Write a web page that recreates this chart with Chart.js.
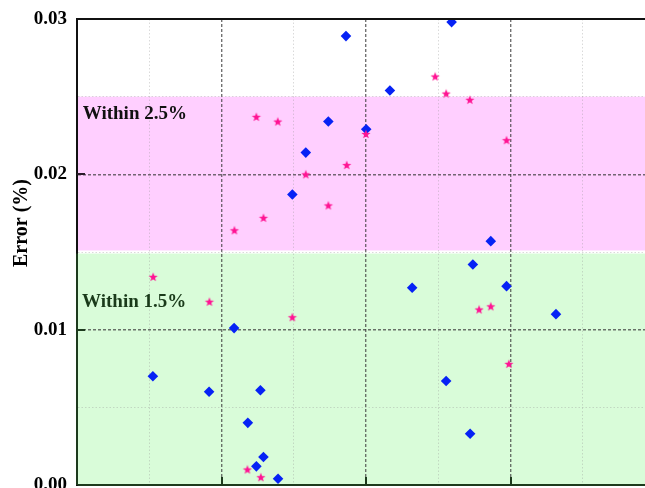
<!DOCTYPE html>
<html>
<head>
<meta charset="utf-8">
<script src="https://cdn.jsdelivr.net/npm/chart.js@4.4.0/dist/chart.umd.min.js"></script>
<style>
  html, body { margin: 0; padding: 0; background: #ffffff; }
  #wrap { width: 645px; height: 488px; position: relative; }
</style>
</head>
<body>
<div id="wrap"><canvas id="c" width="645" height="488"></canvas></div>
<script>
// ---- data ----
const blueX = [1.861, 2.592, 2.165, 1.739, 2.001, 1.583, 1.490, 2.863, 2.739, 2.319, 2.972,
               3.314, 1.087, 0.525, 0.914, 1.269, 2.554, 1.182, 1.290, 1.241, 1.391, 2.720];
const blueY = [0.0289, 0.0298, 0.0254, 0.0234, 0.0229, 0.0214, 0.0187, 0.0157, 0.0142, 0.0127, 0.0128,
               0.0110, 0.0101, 0.0070, 0.0060, 0.0061, 0.0067, 0.0040, 0.0018, 0.0012, 0.0004, 0.0033];

const pinkX = [2.478, 2.554, 2.718, 2.972, 1.241, 1.389, 1.999, 1.866, 1.583, 1.739,
               1.290, 1.089, 0.527, 0.916, 1.490, 2.782, 2.863, 2.988, 1.179, 1.272];
const pinkY = [0.0263, 0.0252, 0.0248, 0.0222, 0.0237, 0.0234, 0.0226, 0.0206, 0.0200, 0.0180,
               0.0172, 0.0164, 0.0134, 0.0118, 0.0108, 0.0113, 0.0115, 0.0078, 0.0010, 0.0005];

// axis ticks
const yTickValues = [0, 0.005, 0.01, 0.015, 0.02, 0.025, 0.03];
const yTickLabels = ['0.00', '', '0.01', '', '0.02', '', '0.03'];
const yMajor = [0.01, 0.02];
const xTickValues = [0.5, 1, 1.5, 2, 2.5, 3, 3.5];
const xMajor = [1, 2, 3];
const xRange = [0, 3.93];
const yRange = [0, 0.03];

// tolerance bands and their captions
const bandUpper = [0.0151, 0.025];
const bandLower = [0, 0.0149];
const bandCaptions = ['Within 2.5%', 'Within 1.5%'];
const captionPos = [[0.04, 0.02356], [0.035, 0.01147]];
const yTitle = 'Error (%)';

// ---- styling ----
const SERIF = '"Liberation Serif", "Times New Roman", Times, serif';
Chart.defaults.font.family = SERIF;

const isMajor = (v, list) => list.some(m => Math.abs(m - v) < 1e-9);

function makeStar(color, outer, inner) {
  const s = Math.ceil(outer * 2 + 2);
  const c = document.createElement('canvas');
  c.width = s; c.height = s;
  const g = c.getContext('2d');
  g.translate(s / 2, s / 2 + 0.4);
  g.beginPath();
  for (let i = 0; i < 10; i++) {
    const r = i % 2 ? inner : outer;
    const a = -Math.PI / 2 + i * Math.PI / 5;
    g.lineTo(r * Math.cos(a), r * Math.sin(a));
  }
  g.closePath();
  g.fillStyle = color;
  g.fill();
  return c;
}
const starImg = makeStar('#ff1493', 4.8, 2.0);

// bands, frame, inward ticks, captions and axis title
const decor = {
  id: 'decor',
  beforeDraw(chart) {
    const { ctx, chartArea: a, scales: { x, y } } = chart;
    ctx.save();
    ctx.fillStyle = '#ffcfff';
    const pu = y.getPixelForValue(bandUpper[1]), pl = y.getPixelForValue(bandUpper[0]);
    ctx.fillRect(a.left, pu, a.right - a.left, pl - pu);
    ctx.fillStyle = '#d9fcd9';
    const gu = y.getPixelForValue(bandLower[1]), gl = y.getPixelForValue(bandLower[0]);
    ctx.fillRect(a.left, gu, a.right - a.left, gl - gu);
    ctx.restore();
  },
  afterDraw(chart) {
    const { ctx, chartArea: a, scales: { x, y } } = chart;
    ctx.save();
    // top frame line
    ctx.strokeStyle = '#111';
    ctx.lineWidth = 2;
    ctx.beginPath();
    ctx.moveTo(a.left - 1, a.top);
    ctx.lineTo(a.right, a.top);
    ctx.stroke();
    // dark green left edge across the lower band
    ctx.strokeStyle = '#1d3b1d';
    ctx.beginPath();
    ctx.moveTo(a.left, y.getPixelForValue(bandLower[1]));
    ctx.lineTo(a.left, a.bottom);
    ctx.stroke();
    // inward major ticks
    xMajor.forEach(v => {
      const px = Math.round(x.getPixelForValue(v));
      ctx.beginPath();
      ctx.moveTo(px, a.bottom);
      ctx.lineTo(px, a.bottom - 8);
      ctx.stroke();
    });
    yMajor.forEach(v => {
      const py = Math.round(y.getPixelForValue(v));
      ctx.strokeStyle = v < bandLower[1] ? '#1d3b1d' : '#2a1a2a';
      ctx.beginPath();
      ctx.moveTo(a.left, py);
      ctx.lineTo(a.left + 8, py);
      ctx.stroke();
    });
    // band captions
    ctx.font = 'bold 19px ' + SERIF;
    ctx.textAlign = 'left';
    ctx.textBaseline = 'alphabetic';
    ctx.fillStyle = '#111';
    ctx.fillText(bandCaptions[0], x.getPixelForValue(captionPos[0][0]), y.getPixelForValue(captionPos[0][1]));
    ctx.fillStyle = '#1a3a1a';
    ctx.fillText(bandCaptions[1], x.getPixelForValue(captionPos[1][0]), y.getPixelForValue(captionPos[1][1]));
    // y-axis title
    ctx.translate(22, 223);
    ctx.rotate(-Math.PI / 2);
    ctx.font = 'bold 20px ' + SERIF;
    ctx.fillStyle = '#000';
    ctx.textAlign = 'center';
    ctx.textBaseline = 'middle';
    ctx.fillText(yTitle, 0, 0);
    ctx.restore();
  }
};

const toPoints = (xs, ys) => xs.map((v, i) => ({ x: v, y: ys[i] }));

new Chart(document.getElementById('c'), {
  type: 'scatter',
  data: {
    datasets: [
      {
        label: 'B',
        data: toPoints(blueX, blueY),
        pointStyle: 'rectRot',
        pointRadius: 5.3,
        borderWidth: 0,
        backgroundColor: '#0622f5',
        borderColor: '#0622f5',
        order: 2
      },
      {
        label: 'A',
        data: toPoints(pinkX, pinkY),
        pointStyle: starImg,
        pointRadius: 5,
        backgroundColor: '#ff1493',
        borderColor: '#ff1493',
        order: 1
      }
    ]
  },
  options: {
    responsive: false,
    animation: false,
    events: [],
    devicePixelRatio: 1,
    layout: { autoPadding: false, padding: { top: 19, right: 0, bottom: 3, left: 0 } },
    plugins: { legend: { display: false }, tooltip: { enabled: false } },
    scales: {
      x: {
        type: 'linear',
        min: xRange[0],
        max: xRange[1],
        afterBuildTicks: s => { s.ticks = xTickValues.map(v => ({ value: v })); },
        afterFit: s => { s.height = 0; s.paddingLeft = 0; s.paddingRight = 0; },
        ticks: { display: false },
        grid: {
          drawTicks: false,
          color: c => c.tick && isMajor(c.tick.value, xMajor) ? 'rgba(60,60,60,0.72)' : 'rgba(150,150,150,0.35)',
          lineWidth: c => c.tick && isMajor(c.tick.value, xMajor) ? 1.4 : 1
        },
        border: {
          display: true,
          color: '#1d3b1d',
          width: 2,
          dash: c => c.tick ? (isMajor(c.tick.value, xMajor) ? [3, 2] : [1.5, 2]) : []
        }
      },
      y: {
        type: 'linear',
        min: yRange[0],
        max: yRange[1],
        afterBuildTicks: s => { s.ticks = yTickValues.map(v => ({ value: v })); },
        afterFit: s => { s.width = 77; s.paddingTop = 0; s.paddingBottom = 0; },
        ticks: {
          padding: 10,
          color: '#000',
          font: { size: 19, weight: 'bold', family: SERIF },
          callback: (v, i) => yTickLabels[i]
        },
        grid: {
          drawTicks: false,
          color: c => {
            if (!c.tick) return 'rgba(0,0,0,0)';
            const v = c.tick.value;
            if (v <= 0 || v >= 0.03) return 'rgba(0,0,0,0)';
            return isMajor(v, yMajor) ? 'rgba(60,60,60,0.72)' : 'rgba(150,150,150,0.35)';
          },
          lineWidth: c => c.tick && isMajor(c.tick.value, yMajor) ? 1.4 : 1
        },
        border: {
          display: true,
          color: '#111',
          width: 2,
          dash: c => c.tick ? (isMajor(c.tick.value, yMajor) ? [3, 2] : [1.5, 2]) : []
        }
      }
    }
  },
  plugins: [decor]
});
</script>
</body>
</html>
